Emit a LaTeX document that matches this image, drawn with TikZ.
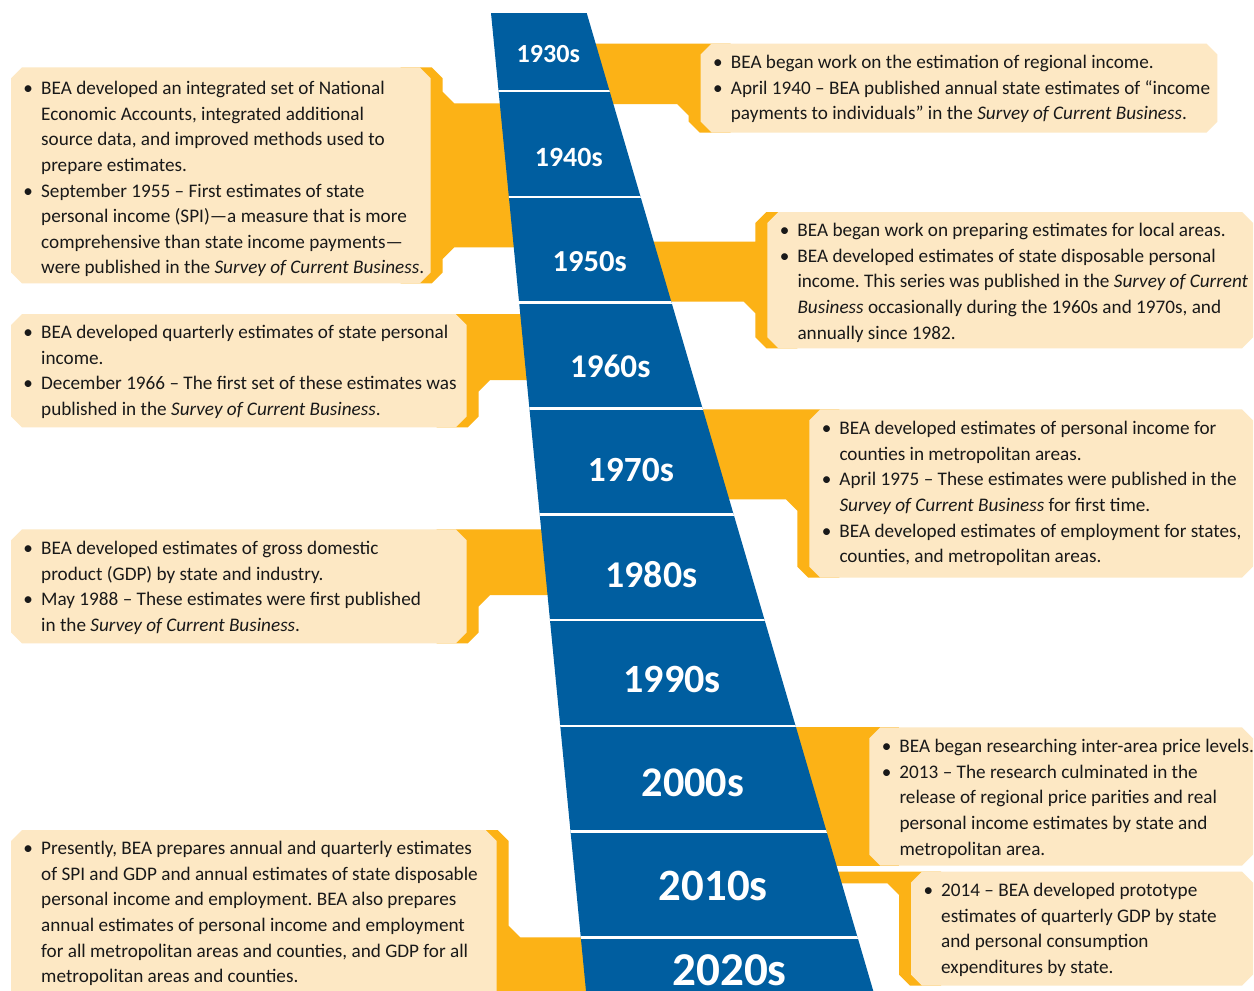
\documentclass[tikz,border=0pt]{standalone}
\usepackage{fontspec}
\setmainfont{Carlito}
\definecolor{beablue}{RGB}{0,94,160}
\definecolor{beaorange}{RGB}{252,178,22}
\definecolor{beabeige}{RGB}{253,232,196}
\definecolor{beatext}{RGB}{25,25,25}
\newcommand{\bul}{\par\noindent\hangindent=30pt\hangafter=1\makebox[30pt][l]{\hspace{12.3pt}\textbullet}\ignorespaces}
\newcommand{\bbox}[1]{\parbox[t]{560pt}{\frenchspacing\parindent=0pt\parskip=0pt#1}}
\newcommand{\decfont}[1]{\fontsize{#1}{#1}\selectfont\bfseries}
\newcommand{\beachbox}[5]{\fill[#1] ({#2+11},#3) -- ({#4-11},#3) -- (#4,{#3+11}) -- (#4,{#5-11}) -- ({#4-11},#5) -- ({#2+11},#5) -- (#2,{#5-11}) -- (#2,{#3+11}) -- cycle;}
\tikzset{
  txt/.style={anchor=base west, inner sep=0pt, text=beatext, font=\fontsize{19.2}{25.6}\selectfont},
  dec/.style={text=white, inner sep=0pt, anchor=center},
  sep/.style={draw=white, line width=2.6pt}
}
\begin{document}
\begin{tikzpicture}[x=1pt,y=-1pt]
\useasboundingbox (0,0) rectangle (1254,991);
\clip (0,0) rectangle (1254,991);
\fill[white] (0,0) rectangle (1254,991);

% ---------- orange callout shapes ----------
% R1 (1930s)
\fill[beaorange] (550,43.5) -- (730.7,43.5) -- (730.7,132.7) -- (699.7,132.7) -- (688.7,121.7) -- (688.7,115.5) -- (677.2,104) -- (550,104) -- cycle;
% R2 (1950s)
\fill[beaorange] (590,241.7) -- (755.3,241.7) -- (755.3,223) -- (766.3,212) -- (797.3,212) -- (797.3,348.3) -- (766.3,348.3) -- (755.3,337.3) -- (755.3,313.2) -- (743.8,301.7) -- (590,301.7) -- cycle;
% R3 (1970s)
\fill[beaorange] (620,409.3) -- (839.3,409.3) -- (839.3,577.7) -- (808.3,577.7) -- (797.3,566.7) -- (797.3,510.8) -- (785.8,499.3) -- (620,499.3) -- cycle;
% R4 (2000s)
\fill[beaorange] (690,727.3) -- (899.3,727.3) -- (899.3,865.7) -- (690,865.7) -- cycle;
% R5 (2010s)
\fill[beaorange] (710,871.7) -- (941,871.7) -- (941,985.7) -- (910,985.7) -- (899,974.7) -- (899,894.8) -- (887.5,883.3) -- (710,883.3) -- cycle;
% L1 (1940s)
\fill[beaorange] (400.7,67.3) -- (431.7,67.3) -- (442.7,78.3) -- (442.7,91.8) -- (454.2,103.3) -- (560,103.3) -- (560,247.3) -- (454.2,247.3) -- (442.7,258.8) -- (442.7,272.3) -- (431.7,283.3) -- (400.7,283.3) -- cycle;
% L2 (1960s)
\fill[beaorange] (436.7,314) -- (600,314) -- (600,380) -- (490.2,380) -- (478.7,391.5) -- (478.7,416.3) -- (467.7,427.3) -- (436.7,427.3) -- cycle;
% L3 (1980s)
\fill[beaorange] (436.7,529.3) -- (640,529.3) -- (640,595) -- (490.2,595) -- (478.7,606.5) -- (478.7,632.3) -- (467.7,643.3) -- (436.7,643.3) -- cycle;
% L4 (2020s)
\fill[beaorange] (466.7,830) -- (497.7,830) -- (508.7,841) -- (508.7,925.8) -- (520.2,937.3) -- (720,937.3) -- (720,1010) -- (466.7,1010) -- cycle;

% ---------- blue trapezoid ----------
\coordinate (tl) at (491,13);
\coordinate (tr) at (586.7,13);
\coordinate (br) at (873.3,991);
\coordinate (bl) at (586,991);
\fill[beablue] (tl) -- (tr) -- (br) -- (bl) -- cycle;
\begin{scope}
  \clip (tl) -- (tr) -- (br) -- (bl) -- cycle;
  \foreach \k in {0,...,8} {
    \draw[sep] (400,{91+105.8*\k}) -- (1000,{91+105.8*\k});
  }
\end{scope}

% ---------- beige boxes ----------
\beachbox{beabeige}{700.7}{43.5}{1217.3}{132.7}
\beachbox{beabeige}{767.3}{212}{1253}{348.3}
\beachbox{beabeige}{809.3}{409.3}{1253}{577.7}
\beachbox{beabeige}{869.3}{727.3}{1253}{865.7}
\beachbox{beabeige}{911}{871.7}{1253}{985.7}
\beachbox{beabeige}{11}{67.3}{430.7}{283.3}
\beachbox{beabeige}{11}{314}{466.7}{427.3}
\beachbox{beabeige}{11}{529.3}{466.7}{643.3}
\beachbox{beabeige}{11}{830}{496.7}{1010}

% ---------- texts ----------
\node[txt] (t1930) at (700.7,68.5) {\bbox{%
\bul BEA began work on the estimation of regional income.
\bul April 1940 – BEA published annual state estimates of “income\\
payments to individuals” in the \textit{Survey of Current Business}.}};

\node[txt] (t1940) at (11,94.7) {\bbox{%
\bul BEA developed an integrated set of National\\
Economic Accounts, integrated additional\\
source data, and improved methods used to\\
prepare estimates.
\bul September 1955 – First estimates of state\\
personal income (SPI)—a measure that is more\\
comprehensive than state income payments—\\
were published in the \textit{Survey of Current Business}.}};

\node[txt] (t1950) at (767.3,236.7) {\bbox{%
\bul BEA began work on preparing estimates for local areas.
\bul BEA developed estimates of state disposable personal\\
income. This series was published in the \textit{Survey of Current}\\
\textit{Business} occasionally during the 1960s and 1970s, and\\
annually since 1982.}};

\node[txt] (t1960) at (11,338.7) {\bbox{%
\bul BEA developed quarterly estimates of state personal\\
income.
\bul December 1966 – The first set of these estimates was\\
published in the \textit{Survey of Current Business}.}};

\node[txt] (t1970) at (809.3,434.7) {\bbox{%
\bul BEA developed estimates of personal income for\\
counties in metropolitan areas.
\bul April 1975 – These estimates were published in the\\
\textit{Survey of Current Business} for first time.
\bul BEA developed estimates of employment for states,\\
counties, and metropolitan areas.}};

\node[txt] (t1980) at (11,554.7) {\bbox{%
\bul BEA developed estimates of gross domestic\\
product (GDP) by state and industry.
\bul May 1988 – These estimates were first published\\
in the \textit{Survey of Current Business}.}};

\node[txt] (t2000) at (869.3,752.7) {\bbox{%
\bul BEA began researching inter-area price levels.
\bul 2013 – The research culminated in the\\
release of regional price parities and real\\
personal income estimates by state and\\
metropolitan area.}};

\node[txt] (t2020) at (11,854.7) {\bbox{%
\bul Presently, BEA prepares annual and quarterly estimates\\
of SPI and GDP and annual estimates of state disposable\\
personal income and employment. BEA also prepares\\
annual estimates of personal income and employment\\
for all metropolitan areas and counties, and GDP for all\\
metropolitan areas and counties.}};

\node[txt] (t2010) at (911,896.7) {\bbox{%
\bul 2014 – BEA developed prototype\\
estimates of quarterly GDP by state\\
and personal consumption\\
expenditures by state.}};

% ---------- decade labels ----------
\node[dec, font={\decfont{26.1}}] (d1930) at (548.3,54.2) {1930s};
\node[dec, font={\decfont{27.9}}] (d1940) at (568.8,157.7) {1940s};
\node[dec, font={\decfont{30.5}}] (d1950) at (589.7,261.7) {1950s};
\node[dec, font={\decfont{33.1}}] (d1960) at (610.3,366.5) {1960s};
\node[dec, font={\decfont{35.4}}] (d1970) at (630.9,470.5) {1970s};
\node[dec, font={\decfont{37.8}}] (d1980) at (651.5,575) {1980s};
\node[dec, font={\decfont{40.1}}] (d1990) at (672.1,679) {1990s};
\node[dec, font={\decfont{42.2}}] (d2000) at (692.8,783) {2000s};
\node[dec, font={\decfont{44.8}}] (d2010) at (713.3,885.8) {2010s};
\node[dec, font={\decfont{47.1}}] (d2020) at (729.5,970) {2020s};
\end{tikzpicture}
\end{document}
